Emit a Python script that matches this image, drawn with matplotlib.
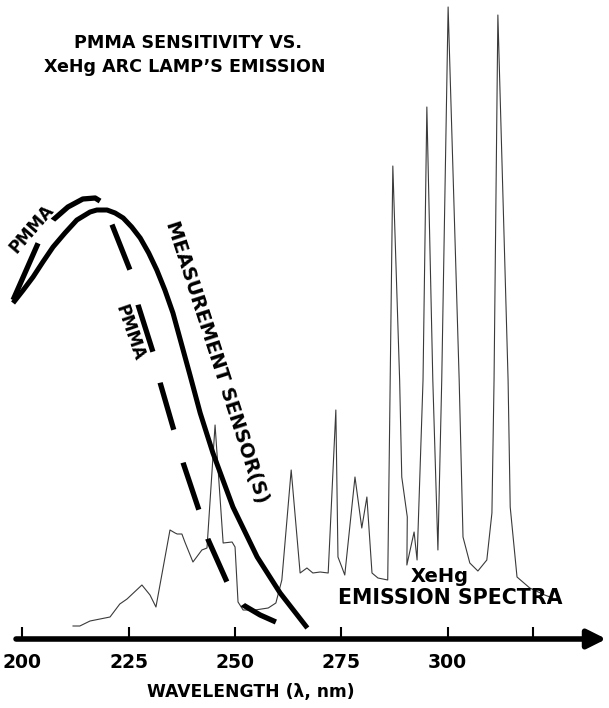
import numpy as np
import matplotlib
matplotlib.use("Agg")
import matplotlib.pyplot as plt

plt.rcParams['font.family'] = ['DejaVu Sans']
plt.rcParams['font.weight'] = 'bold'
plt.rcParams['lines.scale_dashes'] = False

# XeHg arc lamp emission (arbitrary units)
spec_wl = [211.9, 213.5, 215.9, 220.6, 222.9, 224.6, 228.1, 230.0, 231.4, 234.7,
           235.9, 236.4, 237.5, 238.2, 240.1, 242.2, 243.4, 245.3, 247.2, 249.3,
           250.0, 250.7, 251.9, 254.7, 257.8, 259.6, 261.0, 263.2, 265.3, 266.9,
           268.3, 270.0, 271.9, 273.7, 274.2, 275.1, 275.8, 278.2, 279.8, 281.0,
           282.2, 283.6, 285.9, 287.1, 288.7, 289.2, 290.5, 290.4, 292.1, 292.8,
           294.2, 295.1, 296.5, 297.7, 298.6, 300.1, 302.7, 303.6, 305.2, 307.1,
           309.2, 310.4, 310.9, 311.8, 314.2, 314.7, 316.3, 319.3, 322.8, 324.7]
spec_int = [13, 13, 18, 22, 35, 40, 54, 44, 32, 109,
            106, 105, 105, 97, 77, 89, 91, 214, 96, 97,
            92, 37, 29, 29, 31, 36, 59, 169, 66, 71,
            66, 67, 66, 229, 82, 72, 64, 162, 111, 142,
            66, 61, 59, 473, 259, 162, 122, 74, 107, 79,
            259, 532, 259, 89, 259, 632, 259, 102, 76, 68,
            79, 126, 259, 624, 259, 132, 62, 51, 44, 41]

# measurement sensor sensitivity
sensor_wl = [197.8, 200.2, 202.5, 204.8, 207.2, 210.0, 212.8, 215.9, 217.5, 219.9,
             221.8, 223.7, 225.7, 227.7, 229.7, 231.6, 233.5, 235.4, 239.4, 241.8,
             244.8, 249.5, 255.2, 260.6, 267.0]
sensor_val = [336, 349, 362, 377, 392, 406, 419, 427, 429, 429,
              426, 421, 412, 401, 386, 369, 349, 326, 264, 226,
              186, 132, 82, 46, 11]

# PMMA sensitivity
pmma_wl = [197.8, 200.6, 203.7, 207.2, 210.7, 214.2, 217.1, 219.0, 221.1, 225.3,
           227.2, 230.7, 232.4, 235.6, 237.8, 241.5, 243.6, 248.1, 251.9, 255.9, 259.6]
pmma_val = [339, 366, 396, 419, 432, 440, 441, 436, 414, 369,
            334, 287, 256, 209, 176, 129, 100, 57, 34, 24, 17]

ticks = [200, 225, 250, 275, 300, 320]
tick_labels = ['200', '225', '250', '275', '300', '']

fig = plt.figure(figsize=(6.09, 7.08), dpi=100)
ax = fig.add_axes([0, 69 / 708, 1, 639 / 708])
ax.set_xlim(194.73, 337.93)
ax.set_ylim(0, 639)

ax.plot(spec_wl, spec_int, color='#3a3a3a', lw=0.8)
ax.plot(sensor_wl, sensor_val, color='black', lw=3.6, solid_capstyle='butt',
        solid_joinstyle='round')
px = 0.72
ax.plot(pmma_wl, pmma_val, color='black', lw=3.8, dash_capstyle='butt',
        dashes=[v * px for v in (62, 27.5, 55, 27, 48.5, 36, 49.3, 31.8, 49,
                                 34.2, 49.6, 30.4, 47, 28, 40, 60)])

for s in ['left', 'right', 'top', 'bottom']:
    ax.spines[s].set_visible(False)
ax.set_yticks([])
ax.set_xticks(ticks, tick_labels)
ax.tick_params(axis='x', direction='in', length=9, width=1.5, pad=10,
               labelsize=13.5, color='black')

ax.annotate('', xy=(337.3, 0), xytext=(198.5, 0), annotation_clip=False,
            arrowprops=dict(arrowstyle='-|>', lw=4, color='black',
                            mutation_scale=28, shrinkA=0, shrinkB=0))

fig.text(251 / 609, 1 - 692 / 708, 'WAVELENGTH (λ, nm)', ha='center', va='center',
         fontsize=12.3)

ax.text(238.9, 596, 'PMMA SENSITIVITY VS.', ha='center', va='center', fontsize=12.6)
ax.text(238.1, 572, 'XeHg ARC LAMP\u2019S EMISSION', ha='center', va='center',
        fontsize=12.6)
ax.text(202.2, 410, 'PMMA', rotation=49, ha='center', va='center', fontsize=12)
ax.text(225.3, 306, 'PMMA', rotation=-71, ha='center', va='center', fontsize=12)
ax.text(245.8, 277, 'MEASUREMENT SENSOR(S)', rotation=-72, ha='center', va='center',
        fontsize=14)
ax.text(298.0, 63, 'XeHg', ha='center', va='center', fontsize=14)
ax.text(300.6, 41, 'EMISSION SPECTRA', ha='center', va='center', fontsize=14.8)

fig.savefig('out.png', dpi=100)
